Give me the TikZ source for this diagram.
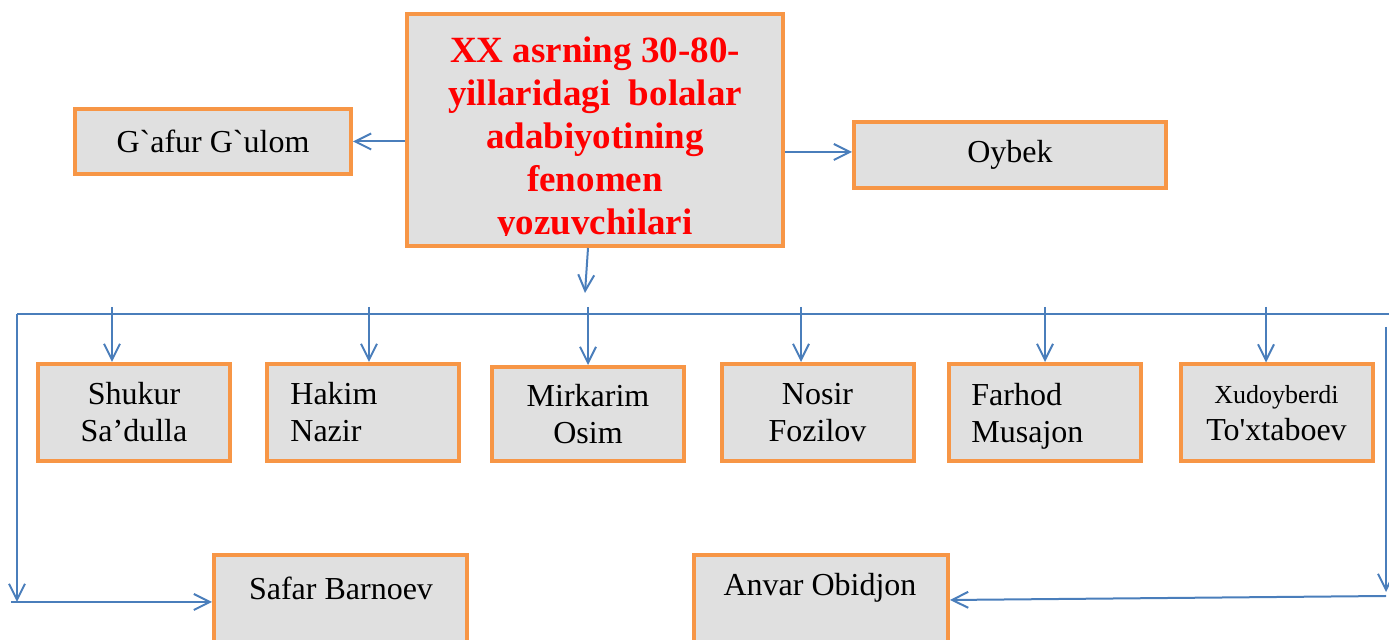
\documentclass[tikz,border=0pt]{standalone}
\usepackage{fontspec}
\setmainfont{Liberation Serif}
% plain family: keeps ` and ' as typed
\newfontfamily\labelfont{Liberation Serif}
\usetikzlibrary{arrows.meta}
\definecolor{boxedge}{HTML}{F79646}
\definecolor{boxfill}{HTML}{E0E0E0}
\definecolor{linkblue}{HTML}{4A7EBB}
\definecolor{titlered}{HTML}{FF0000}
\begin{document}
\begin{tikzpicture}[x=0.5pt,y=-0.5pt,
  box/.style={draw=boxedge, fill=boxfill, line width=2pt, inner sep=0pt,
    align=center, font=\labelfont\fontsize{16}{18.5}\selectfont},
  rowbox/.style={box, minimum width=96pt, minimum height=48.5pt},
  lbl/.style={inner sep=0pt, font=\labelfont\fontsize{16}{18.5}\selectfont},
  link/.style={draw=linkblue, line width=1pt,
    -{Straight Barb[length=8pt,width=8pt,line width=1pt]}},
  plain/.style={draw=linkblue, line width=1pt},
]
\useasboundingbox (0,0) rectangle (1389,640);
\clip (0,0) rectangle (1389,640);

% central box with clipped title text
\node[box, minimum width=188pt, minimum height=116pt] (core) at (595,130) {};
\begin{scope}
  \clip (409,16) rectangle (781,236);
  \node[inner sep=0pt, align=center, anchor=north, text=titlered,
    font=\labelfont\bfseries\fontsize{18.5}{21.5}\selectfont] (coretext) at (595,36)
    {XX asrning 30-80-\\yillaridagi\ \ bolalar\\adabiyotining\\fenomen\\yozuvchilari};
\end{scope}

% side boxes
\node[box, minimum width=138pt, minimum height=32.5pt] (gafur) at (213,141.5) {G`afur G`ulom};
\node[box, minimum width=156pt, minimum height=33pt] (oybek) at (1010,155) {Oybek};

% row of boxes
\node[rowbox] (shukur) at (134,412.5) {Shukur\\Sa’dulla};
\node[rowbox] (hakim) at (362.5,412.5) {};
\node[lbl, align=left, anchor=north west] (hakimname) at (290,382) {Hakim\\Nazir};
\node[rowbox, minimum height=47pt] (mirkarim) at (588,414) {Mirkarim\\Osim};
\node[rowbox] (nosir) at (817.5,412.5) {Nosir\\Fozilov};
\node[rowbox] (farhod) at (1044.5,412.5) {};
\node[lbl, align=left, anchor=north west] (farhodname) at (971,383) {Farhod\\Musajon};
\node[rowbox] (xudo) at (1276.5,413) {{\fontsize{13}{15}\selectfont Xudoyberdi}\\To'xtaboev};

% bottom boxes (run past the lower edge)
\node[box, minimum width=126.5pt, minimum height=72.5pt] (safar) at (340.5,627.5) {};
\node[lbl] (safarname) at (341,588) {Safar Barnoev};
\node[box, minimum width=127pt, minimum height=72.5pt] (anvar) at (821,627.5) {};
\node[lbl] (anvarname) at (820,588) {Anvar Obidjon};

% connectors from the central box
\draw[link] (core.west |- gafur) -- (gafur.east);
\draw[link] (core.east |- 0,152) -- (oybek.west |- 0,152);
\coordinate (drop) at (585,293);
\draw[link] ([xshift=-3.5pt]core.south) -- (drop);

% distribution bus
\coordinate (busL) at (17,314);
\coordinate (busR) at (1389,314);
\draw[plain] (busL) -- (busR);

% branches down to the row
\coordinate (b1) at (112,307);
\coordinate (b2) at (369,307);
\coordinate (b3) at (588,307);
\coordinate (b4) at (801,307);
\coordinate (b5) at (1045,307);
\coordinate (b6) at (1266,307);
\draw[link] (b1) -- (b1 |- shukur.north);
\draw[link] (b2) -- (b2 |- hakim.north);
\draw[link] (b3) -- (b3 |- mirkarim.north);
\draw[link] (b4) -- (b4 |- nosir.north);
\draw[link] (b5) -- (b5 |- farhod.north);
\draw[link] (b6) -- (b6 |- xudo.north);

% left path to Safar Barnoev
\coordinate (leftEnd) at (17,602);
\draw[link] (busL) -- (leftEnd);
\coordinate (leftFoot) at (11,602);
\draw[link] (leftFoot) -- (safar.west |- leftFoot);

% right path to Anvar Obidjon
\coordinate (rTop) at (1386,327);
\coordinate (rBot) at (1386,592);
\draw[link] (rTop) -- (rBot);
\coordinate (rFoot) at (1386,596);
\coordinate (aIn) at (0,600);
\draw[link] (rFoot) -- (anvar.east |- aIn);
\end{tikzpicture}
\end{document}
